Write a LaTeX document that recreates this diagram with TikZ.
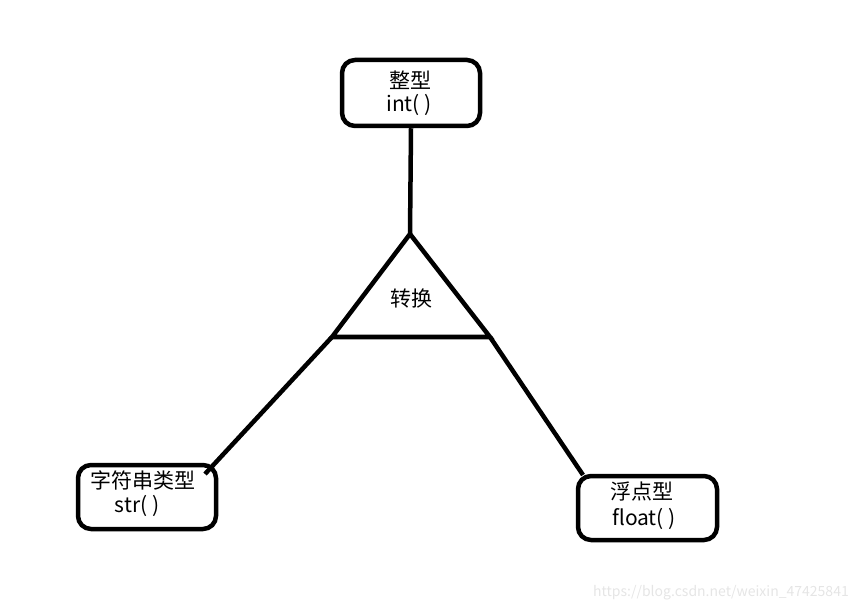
\documentclass[tikz,border=0pt]{standalone}
\usepackage{fontspec}
\setmainfont{Noto Sans CJK SC}
\begin{document}
\begin{tikzpicture}[x=1pt,y=1pt,
  typebox/.style={draw=black,line width=4.5pt,rounded corners=13pt,fill=white},
  conn/.style={draw=black,line width=4.5pt},
  lbl/.style={font=\fontsize{21}{26}\selectfont,align=center,inner sep=0pt}]
\useasboundingbox (0,0) rectangle (864,611);
% boxes
\node[typebox,minimum width=138pt,minimum height=66pt] (int) at (411,518) {};
\node[typebox,minimum width=138pt,minimum height=64pt] (str) at (147,114) {};
\node[typebox,minimum width=139pt,minimum height=64pt] (flt) at (647.5,103) {};
% triangle vertices
\coordinate (apex) at (410,377);
\coordinate (bl) at (332,274);
\coordinate (br) at (490,274);
\coordinate (strend) at (205,137);
\coordinate (fltend) at (583,136);
\draw[conn,line join=miter] (apex) -- (bl) -- (br) -- cycle;
\draw[conn] (int.south) -- (apex);
\draw[conn] (bl) -- (strend);
\draw[conn] (br) -- (fltend);
% labels
\node[lbl] (intt1) at (410,531) {整型};
\node[lbl] (intt2) at (409,506) {int( )};
\node[lbl] (conv) at (411,312) {转换};
\node[lbl] (strt1) at (143,131) {字符串类型};
\node[lbl] (strt2) at (137,105) {str( )};
\node[lbl] (fltt1) at (642,119) {浮点型};
\node[lbl] (fltt2) at (644,92) {float( )};
\node[font=\fontsize{14}{16}\selectfont,text=black!10,inner sep=0pt] (wm) at (721,18) {https://blog.csdn.net/weixin\_47425841};
\end{tikzpicture}
\end{document}
